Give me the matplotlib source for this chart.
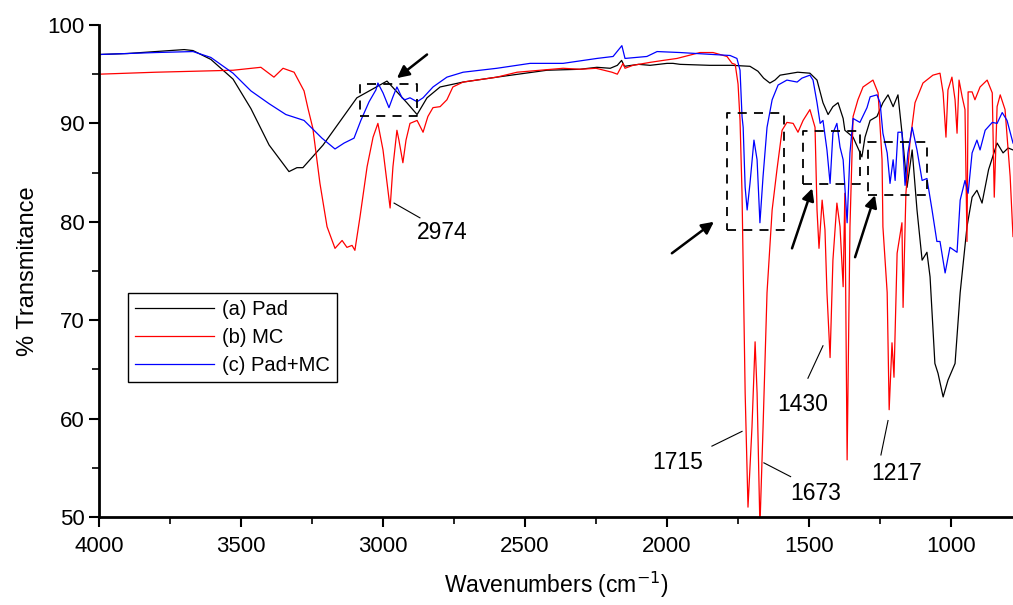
import numpy as np
import matplotlib
matplotlib.use('Agg')
import matplotlib.pyplot as plt

plt.rcParams['font.family'] = ['Liberation Sans', 'DejaVu Sans']

# (a) Pad
pad_wn = [4000, 3900, 3800, 3700, 3669, 3606, 3528, 3465, 3401, 3331, 3303, 3282, 3211, 3092,
          2986, 2916, 2880, 2845, 2799, 2718, 2599, 2423, 2306, 2247, 2200, 2175, 2160, 2150,
          2100, 2060, 2000, 1979, 1954, 1850, 1771, 1708, 1680, 1660, 1638, 1620, 1602, 1540,
          1497, 1472, 1451, 1433, 1416, 1398, 1380, 1374, 1345, 1314, 1303, 1285, 1261, 1240,
          1222, 1204, 1187, 1169, 1155, 1137, 1120, 1102, 1085, 1074, 1057, 1046, 1028, 1011,
          986, 968, 944, 926, 909, 891, 868, 838, 817, 799, 782]
pad_t = [97.0, 97.1, 97.3, 97.5, 97.4, 96.5, 94.5, 91.5, 87.8, 85.1, 85.5, 85.5, 87.8, 92.6,
         94.3, 92.1, 90.9, 92.6, 93.7, 94.2, 94.7, 95.4, 95.5, 95.7, 95.6, 95.9, 96.4, 95.8,
         96.0, 95.9, 96.1, 96.1, 96.0, 95.9, 95.9, 95.8, 95.3, 94.6, 94.1, 94.4, 94.9, 95.2,
         95.1, 94.4, 92.1, 90.9, 91.7, 92.1, 90.5, 89.3, 88.6, 86.6, 88.6, 90.3, 90.7, 92.1,
         92.9, 91.7, 92.9, 88.0, 83.5, 87.3, 81.2, 76.1, 76.9, 74.4, 65.6, 64.6, 62.2, 63.9,
         65.6, 72.8, 79.5, 82.5, 83.2, 81.9, 85.3, 88.0, 87.0, 87.5, 87.3]

# (b) MC
mc_wn = [4000, 3800, 3528, 3430, 3384, 3352, 3313, 3278, 3264, 3247, 3222, 3197, 3169, 3144,
         3127, 3109, 3099, 3081, 3056, 3035, 3018, 3000, 2975, 2965, 2951, 2944, 2930, 2919,
         2905, 2880, 2859, 2842, 2824, 2799, 2775, 2754, 2718, 2599, 2528, 2366, 2306, 2250,
         2194, 2175, 2155, 2148, 2120, 2060, 2014, 1965, 1884, 1838, 1789, 1771, 1760, 1750,
         1743, 1736, 1725, 1715, 1701, 1690, 1683, 1673, 1662, 1648, 1630, 1613, 1595, 1578,
         1556, 1539, 1521, 1497, 1479, 1472, 1465, 1454, 1444, 1437, 1426, 1416, 1402, 1391,
         1380, 1374, 1366, 1356, 1345, 1328, 1310, 1275, 1257, 1243, 1240, 1225, 1218, 1208,
         1201, 1190, 1183, 1173, 1169, 1159, 1145, 1127, 1099, 1064, 1039, 1028, 1018, 1011,
         997, 986, 979, 972, 961, 951, 944, 940, 926, 916, 898, 873, 855, 848, 838, 827, 810,
         792, 782]
mc_t = [95.0, 95.2, 95.4, 95.7, 94.7, 95.6, 95.2, 93.3, 91.5, 89.5, 83.9, 79.5, 77.3, 78.1,
        77.4, 77.6, 77.1, 80.5, 85.6, 88.6, 90.0, 87.3, 81.4, 85.6, 89.3, 88.3, 86.0, 88.3,
        90.0, 90.3, 89.1, 90.7, 91.6, 91.7, 92.4, 93.7, 94.2, 94.7, 95.2, 95.6, 95.5, 95.6,
        95.2, 95.0, 96.1, 95.6, 95.9, 96.2, 96.4, 96.6, 97.2, 97.2, 96.8, 96.1, 96.0, 94.0,
        90.3, 82.9, 62.6, 51.0, 59.1, 67.8, 62.6, 49.0, 59.1, 72.8, 81.2, 85.3, 89.3, 90.1,
        90.0, 89.1, 90.3, 91.4, 89.6, 81.2, 77.3, 82.2, 79.2, 72.8, 66.2, 76.1, 81.9, 79.5,
        73.4, 82.9, 55.8, 79.5, 90.7, 92.4, 93.7, 94.4, 93.1, 86.3, 79.5, 72.8, 60.9, 67.7,
        64.2, 76.8, 78.1, 79.9, 71.3, 82.9, 88.0, 92.1, 94.1, 94.9, 95.1, 93.1, 88.6, 93.4,
        94.7, 92.4, 89.0, 94.4, 92.7, 91.4, 78.0, 93.2, 93.2, 92.4, 93.7, 94.4, 93.1, 82.5,
        91.7, 92.9, 91.4, 84.6, 78.5]

# (c) Pad+MC
pm_wn = [4000, 3800, 3669, 3606, 3528, 3465, 3401, 3342, 3278, 3215, 3169, 3137, 3102, 3078,
         3049, 3025, 3018, 3000, 2979, 2965, 2951, 2933, 2923, 2905, 2880, 2859, 2824, 2775,
         2718, 2599, 2482, 2366, 2247, 2190, 2159, 2148, 2071, 2035, 1954, 1838, 1778, 1754,
         1743, 1736, 1732, 1725, 1718, 1708, 1694, 1683, 1673, 1662, 1648, 1630, 1609, 1578,
         1542, 1525, 1497, 1486, 1472, 1461, 1451, 1437, 1426, 1416, 1402, 1391, 1380, 1366,
         1356, 1345, 1321, 1296, 1285, 1261, 1250, 1240, 1225, 1215, 1204, 1197, 1187, 1173,
         1162, 1152, 1137, 1120, 1102, 1085, 1067, 1050, 1039, 1021, 1004, 979, 968, 951, 940,
         926, 909, 898, 880, 855, 838, 820, 803, 782]
pm_t = [97.0, 97.2, 97.3, 96.7, 95.1, 93.3, 92.0, 90.9, 90.3, 88.5, 87.4, 88.0, 88.5, 90.3,
        92.2, 93.4, 94.1, 93.1, 91.6, 92.7, 93.7, 92.6, 92.4, 92.6, 92.2, 92.6, 93.7, 94.7,
        95.2, 95.6, 96.1, 96.1, 96.6, 96.8, 97.9, 96.6, 96.8, 97.3, 97.2, 97.0, 96.9, 96.6,
        95.4, 90.7, 89.6, 83.5, 81.2, 83.9, 88.3, 86.3, 79.9, 84.6, 89.6, 92.4, 93.9, 94.4,
        94.2, 94.6, 94.9, 94.4, 92.1, 90.0, 90.3, 87.3, 83.9, 89.0, 90.0, 87.6, 86.3, 79.9,
        87.0, 90.5, 90.1, 91.6, 92.7, 92.9, 92.1, 89.0, 87.0, 83.9, 86.3, 84.2, 89.1, 89.1,
        83.7, 87.0, 89.6, 87.3, 84.2, 84.4, 81.2, 78.0, 78.0, 74.8, 77.4, 76.9, 82.2, 84.2,
        82.9, 87.0, 88.3, 87.3, 89.3, 90.1, 90.0, 91.1, 90.3, 88.0]

# dashed boxes: (wn_left, wn_right, T_bottom, T_top)
boxes = [(3081, 2880, 90.7, 94.0), (1789, 1588, 79.2, 91.1),
         (1521, 1320, 83.8, 89.2), (1292, 1085, 82.7, 88.1)]
# arrows: tail -> head
arrows = [((2845, 97.0), (2951, 94.6)), ((1983, 76.8), (1835, 80.0)),
          ((1560, 77.3), (1489, 83.4)), ((1338, 76.4), (1268, 82.7))]
# peak labels: text, text pos, leader start, leader end
peaks = [('2974', (2791, 78.9), (2961, 81.9), (2870, 80.4)),
         ('1715', (1964, 55.5), (1736, 58.7), (1842, 57.2)),
         ('1673', (1478, 52.4), (1659, 55.5), (1565, 54.1)),
         ('1430', (1521, 61.4), (1451, 67.4), (1504, 64.1)),
         ('1217', (1190, 54.4), (1222, 59.8), (1247, 56.3))]

fig = plt.figure(figsize=(10.13, 6.05), dpi=100)
ax = fig.add_axes([0.0977, 0.1455, 0.9023, 0.8132])

ax.plot(pad_wn, pad_t, color='black', lw=0.9, label='(a) Pad')
ax.plot(mc_wn, mc_t, color='red', lw=0.9, label='(b) MC')
ax.plot(pm_wn, pm_t, color='blue', lw=0.9, label='(c) Pad+MC')

for x0, x1, y0, y1 in boxes:
    ax.plot([x0, x1, x1, x0, x0], [y0, y0, y1, y1, y0], color='black',
            lw=1.3, ls=(0, (5, 4)))

for tail, head in arrows:
    ax.annotate('', xy=head, xytext=tail,
                arrowprops=dict(arrowstyle='-|>', color='black', lw=1.8,
                                mutation_scale=18, shrinkA=0, shrinkB=0))

for txt, pos, p0, p1 in peaks:
    ax.plot([p0[0], p1[0]], [p0[1], p1[1]], color='black', lw=0.8)
    ax.text(pos[0], pos[1], txt, fontsize=16.5, ha='center', va='center')

ax.set_xlim(4000, 782)
ax.set_ylim(50, 100)
ax.set_xticks([4000, 3500, 3000, 2500, 2000, 1500, 1000])
ax.set_xticks(np.arange(3750, 750, -500), minor=True)
ax.set_yticks([50, 60, 70, 80, 90, 100])
ax.set_yticks(np.arange(55, 100, 10), minor=True)
ax.tick_params(which='major', direction='out', length=7, width=1.5, labelsize=16)
ax.tick_params(which='minor', direction='out', length=5, width=1.2)
ax.tick_params(axis='x', pad=7)
for s in ['top', 'right']:
    ax.spines[s].set_visible(False)
for s in ['left', 'bottom']:
    ax.spines[s].set_linewidth(2)

ax.set_xlabel('Wavenumbers (cm$^{-1}$)', fontsize=16.5, labelpad=9)
ax.set_ylabel('% Transmitance', fontsize=17, labelpad=6)

leg = ax.legend(loc='upper left', bbox_to_anchor=(0.032, 0.455), fontsize=14.5,
                frameon=True, fancybox=False, edgecolor='black', framealpha=1,
                handlelength=3.9, handletextpad=0.4, borderaxespad=0,
                labelspacing=0.45, borderpad=0.35)
leg.get_frame().set_linewidth(1.0)

fig.savefig('out.png', dpi=100)
